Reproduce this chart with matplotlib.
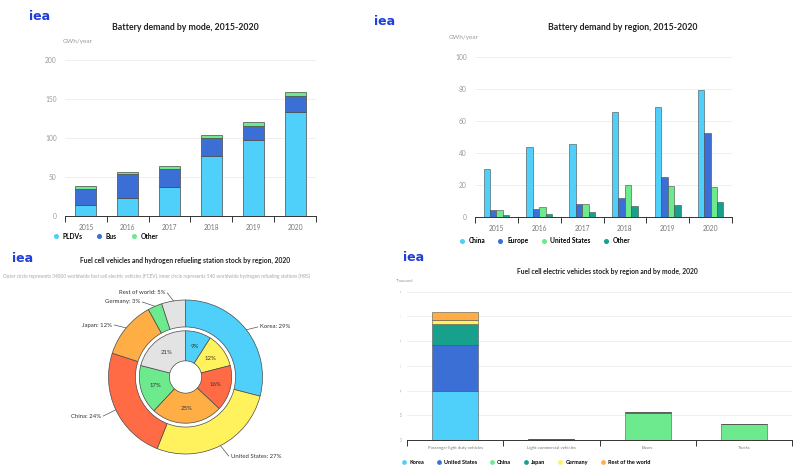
import matplotlib
matplotlib.use('Agg')
import matplotlib.pyplot as plt
import numpy as np
from matplotlib.lines import Line2D
from matplotlib.transforms import Bbox, TransformedBbox

plt.rcParams['font.family'] = ['Lato', 'DejaVu Sans']

# ---------------- data ----------------
years = ['2015', '2016', '2017', '2018', '2019', '2020']
mode_pldv = [14.5, 23.5, 37, 77.5, 97, 133]
mode_bus = [20.5, 30, 23.5, 23, 18.5, 20.5]
mode_other = [4, 3, 4, 3.5, 5, 5.5]

region_china = [29.7, 43.5, 45.6, 65.7, 68.8, 79.5]
region_europe = [4, 5, 8.2, 12, 25, 52.5]
region_us = [4, 6.3, 8, 19.7, 19.2, 18.8]
region_other = [1.3, 1.7, 2.7, 6.7, 7.5, 9]

fcev_labels = ['Korea', 'United States', 'China', 'Japan', 'Germany', 'Rest of world']
fcev_share = [29, 27, 24, 12, 3, 5]
hrs_share = [9, 12, 16, 25, 17, 21]

modes = ['Passenger light duty vehicles', 'Light commercial vehicles', 'Buses', 'Trucks']
stock_regions = ['Korea', 'United States', 'China', 'Japan', 'Germany', 'Rest of the world']
stock_korea = [10.0, 0, 0.1, 0]
stock_us = [9.2, 0.05, 0, 0]
stock_china = [0, 0.1, 5.4, 3.2]
stock_japan = [4.2, 0, 0.15, 0]
stock_germany = [0.9, 0, 0, 0]
stock_row = [1.6, 0.05, 0, 0]

# ---------------- style ----------------
C_CYAN = '#4fd0fb'
C_BLUE = '#3b6fd6'
C_GREEN = '#6eea8e'
C_TEAL = '#17a08b'
C_YEL = '#fff25c'
C_ORA = '#ffae45'
C_RED = '#ff6b45'
C_GRAY = '#e3e3e3'
EDGE = '#4a4a4a'
LOGO = '#1e3fd8'
TXT = '#222222'
TICK = '#9a9a9a'
GRID = '#ededed'

W, H = 800, 473
fig = plt.figure(figsize=(8, 4.73), dpi=100)
fig.patch.set_facecolor('white')


def rect(x0, y0, x1, y1):
    return [x0 / W, 1 - y1 / H, (x1 - x0) / W, (y1 - y0) / H]


def ftext(x, y, s, **kw):
    fig.text(x / W, 1 - y / H, s, **kw)


def style_bar_axes(ax, n, ymax, ystep, fs, pad, xfs):
    ax.set_xlim(-0.5, n - 0.5)
    ax.set_ylim(0, ymax)
    ax.set_yticks(np.arange(0, ymax + 0.1, ystep))
    for s in ['top', 'right', 'left']:
        ax.spines[s].set_visible(False)
    ax.spines['bottom'].set_color('#333333')
    ax.spines['bottom'].set_linewidth(0.7)
    ax.grid(axis='y', color=GRID, linewidth=0.6)
    ax.set_axisbelow(True)
    ax.tick_params(axis='y', length=0, labelsize=fs, labelcolor=TICK, pad=pad)
    ax.set_xticks(np.arange(n))
    ax.set_xticks(np.arange(-0.5, n, 1.0), minor=True)
    ax.tick_params(axis='x', which='major', length=0, labelsize=xfs, labelcolor='#777777', pad=pad)
    ax.tick_params(axis='x', which='minor', length=4, width=0.7, color='#333333')


def logo(x, y, fs=9):
    ftext(x, y, 'iea', fontsize=fs, fontweight='bold', color=LOGO, va='center', ha='left',
          family=['DejaVu Sans'])


# ---------------- panel 1: battery demand by mode ----------------
logo(29, 16)
ftext(185, 27, 'Battery demand by mode, 2015-2020', fontsize=6.3, fontweight='bold',
      color=TXT, ha='center', va='center')
ftext(63, 42, 'GWh/year', fontsize=4.6, color=TICK, ha='left', va='center')
ax1 = fig.add_axes(rect(65, 60, 316, 216))
x = np.arange(len(years))
bw = 0.5
b1 = np.array(mode_pldv)
b2 = b1 + np.array(mode_bus)
ax1.bar(x, mode_pldv, bw, color=C_CYAN, edgecolor=EDGE, linewidth=0.5, label='PLDVs')
ax1.bar(x, mode_bus, bw, bottom=b1, color=C_BLUE, edgecolor=EDGE, linewidth=0.5, label='Bus')
ax1.bar(x, mode_other, bw, bottom=b2, color=C_GREEN, edgecolor=EDGE, linewidth=0.5, label='Other')
ax1.set_xticklabels(years)
style_bar_axes(ax1, len(years), 200, 50, 4.8, 6, 4.8)
h = [Line2D([], [], marker='o', ls='', ms=2.6, color=c) for c in (C_CYAN, C_BLUE, C_GREEN)]
ax1.legend(h, ['PLDVs', 'Bus', 'Other'], loc='upper left', bbox_to_anchor=(-0.06, -0.09),
           ncol=3, frameon=False, handletextpad=0.5, columnspacing=2.0,
           prop={'weight': 'bold', 'size': 4.8}, borderaxespad=0, handlelength=1.0)

# ---------------- panel 2: battery demand by region ----------------
logo(374, 21)
ftext(623, 27, 'Battery demand by region, 2015-2020', fontsize=6.3, fontweight='bold',
      color=TXT, ha='center', va='center')
ftext(449, 38, 'GWh/year', fontsize=4.6, color=TICK, ha='left', va='center')
ax2 = fig.add_axes(rect(475, 57.3, 732, 216.7))
gw = 0.15
series = [(region_china, C_CYAN, 'China'), (region_europe, C_BLUE, 'Europe'),
          (region_us, C_GREEN, 'United States'), (region_other, C_TEAL, 'Other')]
for i, (vals, c, lab) in enumerate(series):
    ax2.bar(x + (i - 1.5) * gw, vals, gw, color=c, edgecolor=EDGE, linewidth=0.4, label=lab)
ax2.set_xticklabels(years)
style_bar_axes(ax2, len(years), 100, 20, 4.8, 6, 4.8)
h = [Line2D([], [], marker='o', ls='', ms=2.6, color=c) for _, c, _ in series]
ax2.legend(h, [s[2] for s in series], loc='upper left', bbox_to_anchor=(-0.075, -0.11),
           ncol=4, frameon=False, handletextpad=0.5, columnspacing=1.8,
           prop={'weight': 'bold', 'size': 4.8}, borderaxespad=0, handlelength=1.0)

# ---------------- panel 3: pie ----------------
logo(12, 258)
ftext(185, 260, 'Fuel cell vehicles and hydrogen refueling station stock by region, 2020',
      fontsize=4.9, fontweight='bold', color=TXT, ha='center', va='center')
ftext(3, 276, 'Outer circle represents 34800 worldwide fuel cell electric vehicles (FCEV), '
      'inner circle represents 540 worldwide hydrogen refueling stations (HRS)',
      fontsize=3.4, color='#a8a8a8', ha='left', va='center')
cx, cy, R = 185.5, 377, 77.0
ax3 = fig.add_axes(rect(cx - R, cy - R, cx + R, cy + R))
ax3.set_aspect('equal')
pie_colors = [C_CYAN, C_YEL, C_RED, C_ORA, C_GREEN, C_GRAY]
wedges, _ = ax3.pie(fcev_share, radius=1.0, colors=pie_colors, startangle=90,
                    counterclock=False, wedgeprops=dict(width=0.35, edgecolor=EDGE, linewidth=0.5))
ax3.pie(hrs_share, radius=0.6, colors=pie_colors, startangle=90, counterclock=False,
        labels=[f'{v}%' for v in hrs_share], labeldistance=0.68,
        textprops=dict(fontsize=4.3, color='#333333', ha='center', va='center'),
        wedgeprops=dict(width=0.39, edgecolor=EDGE, linewidth=0.5))
ax3.set_xlim(-1, 1)
ax3.set_ylim(-1, 1)
# outer labels with leader lines
text_px = [(260, 327, 'left'), (231, 456, 'left'), (101, 416, 'right'),
           (112, 325, 'right'), (140, 302, 'right'), (165, 293, 'right')]
for w, lab, v, (tx, ty, ha) in zip(wedges, fcev_labels, fcev_share, text_px):
    ang = np.deg2rad((w.theta1 + w.theta2) / 2)
    px_, py_ = np.cos(ang) * 1.0, np.sin(ang) * 1.0
    dx, dy = (tx - cx) / R, (cy - ty) / R
    ex = dx - 0.03 if ha == 'left' else dx + 0.03
    ax3.plot([px_, ex], [py_, dy], color='#555555', lw=0.5, clip_on=False)
    ax3.text(dx, dy, f'{lab}: {v}%', fontsize=4.3, color='#333333', ha=ha, va='center',
             clip_on=False)

# ---------------- panel 4: FCEV stock by mode ----------------
logo(403, 257)
ftext(607, 271, 'Fuel cell electric vehicles stock by region and by mode, 2020',
      fontsize=4.9, fontweight='bold', color=TXT, ha='center', va='center')
ftext(396, 281, 'Thousand', fontsize=3.0, color=TICK, ha='left', va='center')
ax4 = fig.add_axes(rect(407, 291.7, 792, 440))
xm = np.arange(len(modes))
bottom = np.zeros(len(modes))
stock = [stock_korea, stock_us, stock_china, stock_japan, stock_germany, stock_row]
stock_colors = [C_CYAN, C_BLUE, C_GREEN, C_TEAL, C_YEL, C_ORA]
for vals, c, lab in zip(stock, stock_colors, stock_regions):
    ax4.bar(xm, vals, 0.48, bottom=bottom, color=c, edgecolor='#555555', linewidth=0.4, label=lab)
    bottom += np.array(vals)
ax4.set_xticklabels(modes)
style_bar_axes(ax4, len(modes), 30, 5, 3.4, 4, 3.2)
clipbox = TransformedBbox(Bbox([[400 / W, 0], [1, 1]]), fig.transFigure)
for t in ax4.yaxis.get_major_ticks():
    t.label1.set_clip_on(True)
    t.label1.set_clip_box(clipbox)
h = [Line2D([], [], marker='o', ls='', ms=2.4, color=c) for c in stock_colors]
ax4.legend(h, stock_regions, loc='upper left', bbox_to_anchor=(-0.02, -0.12),
           ncol=6, frameon=False, handletextpad=0.4, columnspacing=2.2,
           prop={'weight': 'bold', 'size': 4.0}, borderaxespad=0, handlelength=1.0)

fig.savefig('out.png', dpi=100, facecolor='white')
